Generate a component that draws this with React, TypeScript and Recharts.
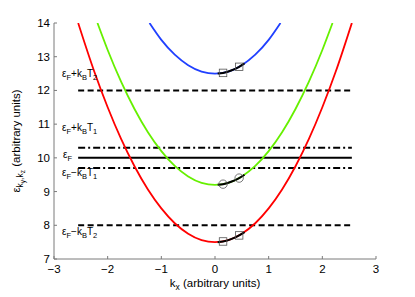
import React from 'react';
import { ComposedChart, Line, Scatter, XAxis, YAxis, ReferenceDot } from 'recharts';

// Dispersion curves
const redKx = [-2.55, -2.25, -2, -1.75, -1.5, -1.25, -1, -0.75, -0.5, -0.25, 0, 0.25, 0.5, 0.75, 1, 1.25, 1.5, 1.75, 2, 2.25, 2.55];
const redE = [14.0, 12.56, 11.5, 10.56, 9.75, 9.06, 8.5, 8.06, 7.75, 7.56, 7.5, 7.56, 7.75, 8.06, 8.5, 9.06, 9.75, 10.56, 11.5, 12.56, 14.0];
const greenKx = [-2.19, -2, -1.75, -1.5, -1.25, -1, -0.75, -0.5, -0.25, 0, 0.25, 0.5, 0.75, 1, 1.25, 1.5, 1.75, 2, 2.19];
const greenE = [14.0, 13.2, 12.26, 11.45, 10.76, 10.2, 9.76, 9.45, 9.26, 9.2, 9.26, 9.45, 9.76, 10.2, 10.76, 11.45, 12.26, 13.2, 14.0];
const blueKx = [-1.22, -1, -0.75, -0.5, -0.25, 0, 0.25, 0.5, 0.75, 1, 1.22];
const blueE = [14.0, 13.5, 13.06, 12.75, 12.56, 12.5, 12.56, 12.75, 13.06, 13.5, 14.0];

// Black highlighted segments
const segKx = [0.05, 0.15, 0.3, 0.45, 0.55];
const redSegE = [7.5, 7.52, 7.59, 7.7, 7.8];
const greenSegE = [9.2, 9.22, 9.29, 9.4, 9.5];
const blueSegE = [12.5, 12.52, 12.59, 12.7, 12.8];

// Markers
const markKx = [0.15, 0.45];
const redMarkE = [7.52, 7.7];
const greenMarkE = [9.22, 9.4];
const blueMarkE = [12.52, 12.7];

// Energy levels
const levelKx = [-2.55, 2.55];
const levelT2Up = 12;
const levelT1Up = 10.3;
const levelF = 10;
const levelT1Down = 9.7;
const levelT2Down = 8;

const xTicks = [-3, -2, -1, 0, 1, 2, 3];
const yTicks = [7, 8, 9, 10, 11, 12, 13, 14];

const toPts = (xs: number[], ys: number[]) => xs.map((x, i) => ({ x, y: ys[i] }));
const level = (v: number) => levelKx.map((x) => ({ x, y: v }));

const FONT = 'Liberation Sans, Arial, Helvetica, sans-serif';
const AXIS = '#7a7a7a';

const fmt = (v: number) => (v < 0 ? '\u2212' + Math.abs(v) : String(v));

const XTick = (p: any) => (
  <g>
    <line x1={p.x} y1={p.y} x2={p.x} y2={p.y - 3} stroke={AXIS} />
    <text x={p.x} y={p.y + 14} textAnchor="middle" fontSize={11.5} fontFamily={FONT} fill="#000">
      {fmt(p.payload.value)}
    </text>
  </g>
);
const YTick = (p: any) => (
  <g>
    <line x1={p.x} y1={p.y} x2={p.x + 3} y2={p.y} stroke={AXIS} />
    <text x={p.x - 4} y={p.y + 4} textAnchor="end" fontSize={11.5} fontFamily={FONT} fill="#000">
      {p.payload.value}
    </text>
  </g>
);

const Square = (p: any) => (
  <rect x={p.cx - 3.75} y={p.cy - 3.75} width={7.5} height={7.5} fill="none" stroke="#555" strokeWidth={0.8} />
);
const Circle = (p: any) => (
  <circle cx={p.cx} cy={p.cy} r={4.2} fill="none" stroke="#555" strokeWidth={0.8} />
);

type LabelSpec = { x: number; y: number; sign: string; sub: string };
const levelLabels: LabelSpec[] = [
  { x: -2.85, y: 12.4, sign: '+', sub: '2' },
  { x: -2.85, y: 10.8, sign: '+', sub: '1' },
  { x: -2.83, y: 10.0, sign: '', sub: '' },
  { x: -2.85, y: 9.45, sign: '\u2212', sub: '1' },
  { x: -2.85, y: 7.7, sign: '\u2212', sub: '2' },
];

const makeLabel = (spec: LabelSpec) => (props: any) => {
  const vb = props.viewBox || {};
  const x = vb.x ?? 0;
  const y = vb.y ?? 0;
  return (
    <text x={x} y={y} fontSize={10} fontFamily={FONT} fill="#000">
      <tspan>ε</tspan>
      <tspan dy={3} fontSize={7.5}>F</tspan>
      {spec.sign ? (
        <>
          <tspan dy={-3}>{spec.sign}k</tspan>
          <tspan dy={3} fontSize={7.5}>B</tspan>
          <tspan dy={-3}>T</tspan>
          <tspan dy={3} fontSize={7.5}>{spec.sub}</tspan>
        </>
      ) : null}
    </text>
  );
};

export default function App() {
  return (
    <div style={{ position: 'absolute', left: 0, top: 0, background: '#fff' }}>
      <ComposedChart width={415} height={297} margin={{ top: 23, right: 39, bottom: 8, left: 14 }}>
        <XAxis
          type="number"
          dataKey="x"
          domain={[-3, 3]}
          ticks={xTicks}
          allowDataOverflow
          height={30}
          stroke={AXIS}
          tickSize={0}
          tickMargin={0}
          tick={<XTick />}
          tickLine={false}
          interval={0}
        />
        <YAxis
          type="number"
          dataKey="y"
          domain={[7, 14]}
          ticks={yTicks}
          allowDataOverflow
          width={40}
          stroke={AXIS}
          tickSize={0}
          tickMargin={0}
          tick={<YTick />}
          tickLine={false}
          interval={0}
        />
        <Line data={level(levelT2Up)} dataKey="y" stroke="#000" strokeWidth={2} strokeDasharray="6 3.5" dot={false} activeDot={false} isAnimationActive={false} />
        <Line data={level(levelT1Up)} dataKey="y" stroke="#000" strokeWidth={2} strokeDasharray="7 3 2 3" dot={false} activeDot={false} isAnimationActive={false} />
        <Line data={level(levelF)} dataKey="y" stroke="#000" strokeWidth={2} dot={false} activeDot={false} isAnimationActive={false} />
        <Line data={level(levelT1Down)} dataKey="y" stroke="#000" strokeWidth={2} strokeDasharray="7 3 2 3" dot={false} activeDot={false} isAnimationActive={false} />
        <Line data={level(levelT2Down)} dataKey="y" stroke="#000" strokeWidth={2} strokeDasharray="6 3.5" dot={false} activeDot={false} isAnimationActive={false} />

        <Line data={toPts(redKx, redE)} dataKey="y" type="monotone" stroke="#ff0000" strokeWidth={1.8} dot={false} activeDot={false} isAnimationActive={false} />
        <Line data={toPts(greenKx, greenE)} dataKey="y" type="monotone" stroke="#66f000" strokeWidth={1.8} dot={false} activeDot={false} isAnimationActive={false} />
        <Line data={toPts(blueKx, blueE)} dataKey="y" type="monotone" stroke="#2040ff" strokeWidth={1.8} dot={false} activeDot={false} isAnimationActive={false} />

        <Line data={toPts(segKx, redSegE)} dataKey="y" type="monotone" stroke="#000" strokeWidth={2} dot={false} activeDot={false} isAnimationActive={false} />
        <Line data={toPts(segKx, greenSegE)} dataKey="y" type="monotone" stroke="#000" strokeWidth={2} dot={false} activeDot={false} isAnimationActive={false} />
        <Line data={toPts(segKx, blueSegE)} dataKey="y" type="monotone" stroke="#000" strokeWidth={2} dot={false} activeDot={false} isAnimationActive={false} />

        <Scatter data={toPts(markKx, redMarkE)} dataKey="y" shape={<Square />} isAnimationActive={false} />
        <Scatter data={toPts(markKx, greenMarkE)} dataKey="y" shape={<Circle />} isAnimationActive={false} />
        <Scatter data={toPts(markKx, blueMarkE)} dataKey="y" shape={<Square />} isAnimationActive={false} />

        {levelLabels.map((s, i) => (
          <ReferenceDot key={i} x={s.x} y={s.y} r={0} fill="none" stroke="none" label={makeLabel(s)} ifOverflow="visible" />
        ))}
      </ComposedChart>
      <svg width={415} height={297} style={{ position: 'absolute', left: 0, top: 0, pointerEvents: 'none' }}>
        <text x={215} y={287} textAnchor="middle" fontSize={11.5} fontFamily={FONT} fill="#000">
          <tspan>k</tspan>
          <tspan dy={3} fontSize={8.5}>x</tspan>
          <tspan dy={-3}> (arbitrary units)</tspan>
        </text>
        <text transform="translate(20,141) rotate(-90)" textAnchor="middle" fontSize={11.5} fontFamily={FONT} fill="#000">
          <tspan>ε</tspan>
          <tspan dy={3} fontSize={8.5}>k</tspan>
          <tspan dy={2} fontSize={6.5}>y</tspan>
          <tspan dy={-2} fontSize={8.5}>,k</tspan>
          <tspan dy={2} fontSize={6.5}>z</tspan>
          <tspan dy={-5}> (arbitrary units)</tspan>
        </text>
      </svg>
    </div>
  );
}
